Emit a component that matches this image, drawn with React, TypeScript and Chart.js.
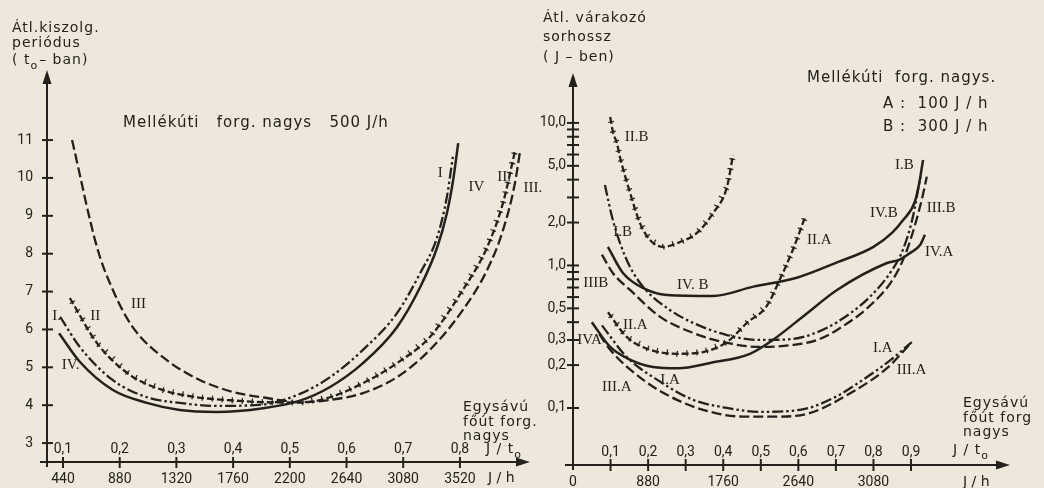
import React, { useEffect, useRef } from "react";
import { Chart, registerables } from "chart.js";

Chart.register(...registerables);

const INK = "#24211d";
const PAPER = "#eee8dc";
const NUM_FONT = "Roboto, 'DejaVu Sans', sans-serif";
const WORD_FONT = "'DejaVu Sans', sans-serif";
const ROMAN_FONT = "'Liberation Serif', 'DejaVu Serif', serif";

// ---------------- Left chart: Átl. kiszolg. periódus (t0-ban) ----------------
const leftTickValues = [0.1, 0.2, 0.3, 0.4, 0.5, 0.6, 0.7, 0.8];
const leftUpperLabels = ["0,1", "0,2", "0,3", "0,4", "0,5", "0,6", "0,7", "0,8"];
const leftLowerLabels = ["440", "880", "1320", "1760", "2200", "2640", "3080", "3520"];
const leftYTicks = [3, 4, 5, 6, 7, 8, 9, 10, 11];

const curveI_x = [0.095, 0.13, 0.188, 0.248, 0.306, 0.371, 0.453, 0.518, 0.571, 0.629, 0.689, 0.73, 0.76, 0.777, 0.788];
const curveI_y = [6.33, 5.53, 4.66, 4.21, 4.06, 3.98, 4.02, 4.3, 4.74, 5.46, 6.43, 7.49, 8.44, 9.5, 10.6];

const curveII_x = [0.112, 0.16, 0.218, 0.276, 0.336, 0.395, 0.453, 0.52, 0.571, 0.629, 0.689, 0.747, 0.805, 0.848, 0.876, 0.897];
const curveII_y = [6.83, 5.64, 4.8, 4.4, 4.21, 4.13, 4.08, 4.07, 4.21, 4.58, 5.11, 5.8, 7.04, 8.17, 9.34, 10.7];

const curveIII_x = [0.116, 0.16, 0.188, 0.223, 0.283, 0.342, 0.4, 0.46, 0.518, 0.571, 0.629, 0.689, 0.747, 0.805, 0.848, 0.876, 0.897, 0.906];
const curveIII_y = [11.0, 8.17, 7.04, 6.06, 5.19, 4.66, 4.35, 4.19, 4.08, 4.14, 4.32, 4.74, 5.46, 6.51, 7.57, 8.62, 9.86, 10.7];

const curveIV_x = [0.093, 0.13, 0.188, 0.248, 0.306, 0.371, 0.453, 0.518, 0.571, 0.629, 0.689, 0.73, 0.76, 0.777, 0.788, 0.797];
const curveIV_y = [5.9, 5.14, 4.4, 4.06, 3.87, 3.82, 3.92, 4.12, 4.48, 5.11, 6.06, 7.12, 8.17, 9.07, 9.94, 10.92];

// ---------------- Right chart: Átl. várakozó sorhossz (J-ben) ----------------
const rightUpperTicks = [0.1, 0.2, 0.3, 0.4, 0.5, 0.6, 0.7, 0.8, 0.9];
const rightUpperLabels = ["0,1", "0,2", "0,3", "0,4", "0,5", "0,6", "0,7", "0,8", "0,9"];
const rightLowerTicks = [0, 0.2, 0.4, 0.6, 0.8];
const rightLowerLabels = ["0", "880", "1760", "2640", "3080"];
const rightYLabelValues = [0.1, 0.2, 0.3, 0.5, 1, 2, 5, 10];
const rightYLabels = ["0,1", "0,2", "0,3", "0,5", "1,0", "2,0", "5,0", "10,0"];
const rightYMinorTicks = [0.4, 0.6, 0.7, 0.8, 0.9, 3, 4, 6, 7, 8, 9];

const IB_x = [0.085, 0.104, 0.125, 0.152, 0.19, 0.258, 0.32, 0.41, 0.498, 0.586, 0.65, 0.703, 0.79, 0.852, 0.879, 0.905, 0.925];
const IB_y = [3.67, 2.19, 1.44, 0.975, 0.69, 0.487, 0.395, 0.325, 0.3, 0.305, 0.34, 0.4, 0.6, 0.95, 1.3, 2.2, 4.2];

const IIB_x = [0.099, 0.107, 0.117, 0.125, 0.152, 0.178, 0.205, 0.24, 0.285, 0.33, 0.373, 0.41, 0.426];
const IIB_y = [11.0, 8.5, 7.2, 5.77, 3.23, 1.99, 1.51, 1.35, 1.46, 1.69, 2.33, 3.56, 5.96];

const IIIB_x = [0.077, 0.106, 0.152, 0.232, 0.32, 0.41, 0.498, 0.586, 0.65, 0.703, 0.79, 0.852, 0.885, 0.91, 0.93, 0.942];
const IIIB_y = [1.19, 0.885, 0.673, 0.436, 0.336, 0.286, 0.268, 0.277, 0.3, 0.353, 0.52, 0.8, 1.2, 1.9, 3.0, 4.2];

const IVB_x = [0.093, 0.133, 0.186, 0.25, 0.373, 0.48, 0.596, 0.703, 0.8, 0.85, 0.879, 0.91, 0.922, 0.932];
const IVB_y = [1.35, 0.885, 0.695, 0.62, 0.61, 0.71, 0.82, 1.05, 1.35, 1.7, 2.08, 2.79, 3.8, 5.5];

const IA_x = [0.077, 0.143, 0.232, 0.32, 0.41, 0.498, 0.604, 0.692, 0.783, 0.852, 0.902];
const IA_y = [0.38, 0.228, 0.153, 0.114, 0.1, 0.094, 0.097, 0.117, 0.165, 0.224, 0.29];

const IIA_x = [0.093, 0.143, 0.205, 0.277, 0.346, 0.41, 0.463, 0.516, 0.551, 0.586, 0.618];
const IIA_y = [0.47, 0.315, 0.256, 0.24, 0.247, 0.29, 0.395, 0.52, 0.8, 1.3, 2.19];

const IIIA_x = [0.07, 0.099, 0.186, 0.277, 0.365, 0.453, 0.543, 0.63, 0.745, 0.836, 0.897];
const IIIA_y = [0.33, 0.256, 0.158, 0.114, 0.094, 0.087, 0.087, 0.092, 0.13, 0.19, 0.28];

const IVA_x = [0.05, 0.099, 0.143, 0.213, 0.28, 0.365, 0.471, 0.532, 0.62, 0.703, 0.836, 0.87, 0.897, 0.924, 0.937];
const IVA_y = [0.4, 0.268, 0.224, 0.194, 0.19, 0.207, 0.24, 0.3, 0.455, 0.673, 1.04, 1.1, 1.22, 1.39, 1.64];

// ---------------- styles ----------------
const DASH_DOT_DOT = [11, 3, 2.5, 3, 2.5, 3];
const TICKED = [7, 3];
const LONG_DASH = [10, 4];
const SOLID: number[] = [];

function makeDataset(xs: number[], ys: number[], dash: number[], width: number) {
  return {
    data: xs.map((x, i) => ({ x, y: ys[i] })),
    borderColor: INK,
    borderWidth: width,
    borderDash: dash,
    pointRadius: 0,
    cubicInterpolationMode: "monotone",
    fill: false,
    borderCapStyle: "butt",
  };
}

function line(ctx: any, x1: number, y1: number, x2: number, y2: number) {
  ctx.beginPath();
  ctx.moveTo(x1, y1);
  ctx.lineTo(x2, y2);
  ctx.stroke();
}

function arrowUp(ctx: any, x: number, y: number) {
  ctx.beginPath();
  ctx.moveTo(x, y);
  ctx.lineTo(x - 4.5, y + 14);
  ctx.lineTo(x + 4.5, y + 14);
  ctx.closePath();
  ctx.fill();
}

function arrowRight(ctx: any, x: number, y: number) {
  ctx.beginPath();
  ctx.moveTo(x, y);
  ctx.lineTo(x - 14, y - 4.5);
  ctx.lineTo(x - 14, y + 4.5);
  ctx.closePath();
  ctx.fill();
}

function text(ctx: any, s: string, x: number, y: number, font: string, align = "left", spacing = "0px") {
  ctx.font = font;
  ctx.textAlign = align;
  ctx.textBaseline = "middle";
  (ctx as any).letterSpacing = spacing;
  ctx.fillText(s, x, y);
  (ctx as any).letterSpacing = "0px";
}

function subText(ctx: any, pre: string, sub: string, post: string, x: number, y: number, font: string, subFont: string, spacing = "1px") {
  ctx.textAlign = "left";
  ctx.textBaseline = "middle";
  (ctx as any).letterSpacing = spacing;
  ctx.font = font;
  ctx.fillText(pre, x, y);
  const w1 = ctx.measureText(pre).width;
  ctx.font = subFont;
  ctx.fillText(sub, x + w1, y + 6);
  const w2 = ctx.measureText(sub).width;
  ctx.font = font;
  ctx.fillText(post, x + w1 + w2 + 1, y);
  (ctx as any).letterSpacing = "0px";
}

function drawTicks(chart: any, dsIndex: number) {
  const meta = chart.getDatasetMeta(dsIndex);
  const pts = meta.data.map((e: any) => ({ x: e.x, y: e.y }));
  const ctx = chart.ctx;
  ctx.save();
  ctx.strokeStyle = INK;
  ctx.lineWidth = 1.2;
  ctx.setLineDash([]);
  let carry = 5;
  for (let i = 0; i < pts.length - 1; i++) {
    const a = pts[i];
    const b = pts[i + 1];
    const dx = b.x - a.x;
    const dy = b.y - a.y;
    const len = Math.hypot(dx, dy);
    if (!len) continue;
    const ux = dx / len;
    const uy = dy / len;
    let d = carry;
    while (d < len) {
      const px = a.x + ux * d;
      const py = a.y + uy * d;
      line(ctx, px - uy * 3, py + ux * 3, px + uy * 3, py - ux * 3);
      d += 10;
    }
    carry = d - len;
  }
  ctx.restore();
}

const WORD = `14px ${WORD_FONT}`;
const WORD_L = `15px ${WORD_FONT}`;
const NUM = `14px ${NUM_FONT}`;
const ROMAN = `15px ${ROMAN_FONT}`;
const SUB = `11px ${WORD_FONT}`;

const leftCurveLabels = [
  { t: "I", x: 0.761, y: 10.13 },
  { t: "IV", x: 0.815, y: 9.76 },
  { t: "II.", x: 0.866, y: 10.02 },
  { t: "III.", x: 0.912, y: 9.73 },
  { t: "I.", x: 0.081, y: 6.35 },
  { t: "II", x: 0.148, y: 6.35 },
  { t: "III", x: 0.22, y: 6.68 },
  { t: "IV.", x: 0.098, y: 5.05 },
];

const rightCurveLabels = [
  { t: "II.B", x: 0.138, y: 8.0 },
  { t: "I.B", x: 0.107, y: 1.72 },
  { t: "IIIB", x: 0.027, y: 0.753 },
  { t: "IV. B", x: 0.277, y: 0.73 },
  { t: "II.A", x: 0.133, y: 0.382 },
  { t: "IVA", x: 0.011, y: 0.3 },
  { t: "III.A", x: 0.077, y: 0.14 },
  { t: "I.A", x: 0.232, y: 0.158 },
  { t: "II.A", x: 0.623, y: 1.51 },
  { t: "I.B", x: 0.857, y: 5.07 },
  { t: "IV.B", x: 0.791, y: 2.33 },
  { t: "III.B", x: 0.942, y: 2.54 },
  { t: "IV.A", x: 0.937, y: 1.24 },
  { t: "I.A", x: 0.799, y: 0.264 },
  { t: "III.A", x: 0.862, y: 0.185 },
];

const leftDecor = {
  id: "leftDecor",
  afterDatasetsDraw(chart: any) {
    drawTicks(chart, 1);
  },
  afterDraw(chart: any) {
    const { ctx, chartArea } = chart;
    const xs = chart.scales.x;
    const ys = chart.scales.y;
    ctx.save();
    ctx.strokeStyle = INK;
    ctx.fillStyle = INK;
    ctx.lineWidth = 2;
    ctx.setLineDash([]);
    const ax = chartArea.left;
    const ay = chartArea.bottom;
    line(ctx, ax, ay + 5, ax, chartArea.top + 10);
    arrowUp(ctx, ax, chartArea.top);
    line(ctx, ax - 7, ay, chartArea.right - 10, ay);
    arrowRight(ctx, chartArea.right, ay);
    leftYTicks.forEach((v) => {
      const py = ys.getPixelForValue(v);
      line(ctx, ax - 5, py, ax + 6, py);
    });
    leftTickValues.forEach((v, i) => {
      const px = xs.getPixelForValue(v);
      line(ctx, px, ay - 5, px, ay + 6);
      text(ctx, leftUpperLabels[i], px, ay - 13, NUM, "center");
    });
    text(ctx, "Átl.kiszolg.", 12, 28, WORD, "left", "1px");
    text(ctx, "periódus", 12, 43, WORD, "left", "1px");
    subText(ctx, "( t", "o", "– ban)", 12, 60, WORD, SUB);
    text(ctx, "Mellékúti   forg. nagys   500 J/h", 123, 123, WORD_L, "left", "1px");
    text(ctx, "Egysávú", 463, 407, WORD, "left", "1px");
    text(ctx, "főút forg.", 463, 422, WORD, "left", "1px");
    text(ctx, "nagys", 463, 436, WORD, "left", "1px");
    subText(ctx, "J / t", "o", "", 486, 449, WORD, SUB);
    text(ctx, "J / h", 488, 478, WORD, "left");
    leftCurveLabels.forEach((l) => {
      text(ctx, l.t, xs.getPixelForValue(l.x), ys.getPixelForValue(l.y), ROMAN, "left");
    });
    ctx.restore();
  },
};

const rightDecor = {
  id: "rightDecor",
  afterDatasetsDraw(chart: any) {
    drawTicks(chart, 1);
    drawTicks(chart, 5);
  },
  afterDraw(chart: any) {
    const { ctx, chartArea } = chart;
    const xs = chart.scales.x;
    const ys = chart.scales.y;
    ctx.save();
    ctx.strokeStyle = INK;
    ctx.fillStyle = INK;
    ctx.lineWidth = 2;
    ctx.setLineDash([]);
    const ax = chartArea.left;
    const ay = chartArea.bottom;
    line(ctx, ax, ay + 5, ax, chartArea.top + 10);
    arrowUp(ctx, ax, chartArea.top);
    line(ctx, ax - 8, ay, chartArea.right - 10, ay);
    arrowRight(ctx, chartArea.right, ay);
    [...rightYLabelValues, ...rightYMinorTicks].forEach((v) => {
      const py = ys.getPixelForValue(v);
      line(ctx, ax - 6, py, ax + 6, py);
    });
    rightUpperTicks.forEach((v, i) => {
      const px = xs.getPixelForValue(v);
      line(ctx, px, ay - 6, px, ay + 6);
      text(ctx, rightUpperLabels[i], px, ay - 13, NUM, "center");
    });
    text(ctx, "Átl. várakozó", 543, 18, WORD, "left", "1px");
    text(ctx, "sorhossz", 543, 37, WORD, "left", "1px");
    text(ctx, "( J – ben)", 543, 57, WORD, "left", "1px");
    text(ctx, "Mellékúti  forg. nagys.", 807, 78, WORD_L, "left", "1px");
    text(ctx, "A :  100 J / h", 883, 104, WORD_L, "left", "1px");
    text(ctx, "B :  300 J / h", 883, 127, WORD_L, "left", "1px");
    text(ctx, "Egysávú", 963, 403, WORD, "left", "1px");
    text(ctx, "főút forg", 963, 418, WORD, "left", "1px");
    text(ctx, "nagys", 963, 432, WORD, "left", "1px");
    subText(ctx, "J / t", "o", "", 953, 450, WORD, SUB);
    text(ctx, "J / h", 963, 482, WORD, "left");
    rightCurveLabels.forEach((l) => {
      text(ctx, l.t, xs.getPixelForValue(l.x), ys.getPixelForValue(l.y), ROMAN, "left");
    });
    ctx.restore();
  },
};

function leftConfig(): any {
  return {
    type: "line",
    data: {
      datasets: [
        makeDataset(curveI_x, curveI_y, DASH_DOT_DOT, 2.3),
        makeDataset(curveII_x, curveII_y, TICKED, 2.3),
        makeDataset(curveIII_x, curveIII_y, LONG_DASH, 2.3),
        makeDataset(curveIV_x, curveIV_y, SOLID, 2.5),
      ],
    },
    options: {
      animation: false,
      responsive: false,
      events: [],
      layout: { padding: { left: 0, top: 70, right: 514, bottom: 0 } },
      plugins: { legend: { display: false }, tooltip: { enabled: false }, title: { display: false } },
      scales: {
        x: {
          type: "linear",
          min: 0.0718,
          max: 0.9236,
          bounds: "data",
          afterBuildTicks: (s: any) => {
            s.ticks = leftTickValues.map((v) => ({ value: v }));
          },
          afterFit: (s: any) => {
            s.height = 26;
          },
          grid: { display: false, drawTicks: false },
          border: { display: false },
          ticks: {
            autoSkip: false,
            maxRotation: 0,
            padding: 9,
            color: INK,
            font: { family: NUM_FONT, size: 14 },
            callback: (_v: any, i: number) => leftLowerLabels[i],
          },
        },
        y: {
          type: "linear",
          min: 2.5,
          max: 12.85,
          bounds: "data",
          afterBuildTicks: (s: any) => {
            s.ticks = leftYTicks.map((v) => ({ value: v }));
          },
          afterFit: (s: any) => {
            s.width = 47;
          },
          grid: { display: false, drawTicks: false },
          border: { display: false },
          ticks: {
            padding: 14,
            color: INK,
            font: { family: NUM_FONT, size: 14 },
            callback: (v: any) => String(v),
          },
        },
      },
    },
    plugins: [leftDecor],
  };
}

function rightConfig(): any {
  return {
    type: "line",
    data: {
      datasets: [
        makeDataset(IB_x, IB_y, DASH_DOT_DOT, 2.3),
        makeDataset(IIB_x, IIB_y, TICKED, 2.3),
        makeDataset(IIIB_x, IIIB_y, LONG_DASH, 2.3),
        makeDataset(IVB_x, IVB_y, SOLID, 2.5),
        makeDataset(IA_x, IA_y, DASH_DOT_DOT, 2.3),
        makeDataset(IIA_x, IIA_y, TICKED, 2.3),
        makeDataset(IIIA_x, IIIA_y, LONG_DASH, 2.3),
        makeDataset(IVA_x, IVA_y, SOLID, 2.5),
      ],
    },
    options: {
      animation: false,
      responsive: false,
      events: [],
      layout: { padding: { left: 0, top: 73, right: 34, bottom: 0 } },
      plugins: { legend: { display: false }, tooltip: { enabled: false }, title: { display: false } },
      scales: {
        x: {
          type: "linear",
          min: 0,
          max: 1.1635,
          bounds: "data",
          afterBuildTicks: (s: any) => {
            s.ticks = rightLowerTicks.map((v) => ({ value: v }));
          },
          afterFit: (s: any) => {
            s.height = 23;
          },
          grid: { display: false, drawTicks: false },
          border: { display: false },
          ticks: {
            autoSkip: false,
            maxRotation: 0,
            padding: 9,
            color: INK,
            font: { family: NUM_FONT, size: 14 },
            callback: (_v: any, i: number) => rightLowerLabels[i],
          },
        },
        y: {
          type: "logarithmic",
          min: 0.0398,
          max: 22.4,
          bounds: "data",
          afterBuildTicks: (s: any) => {
            s.ticks = rightYLabelValues.map((v) => ({ value: v }));
          },
          afterFit: (s: any) => {
            s.width = 573;
          },
          grid: { display: false, drawTicks: false },
          border: { display: false },
          ticks: {
            padding: 7,
            color: INK,
            font: { family: NUM_FONT, size: 14 },
            callback: (_v: any, i: number) => rightYLabels[i],
          },
        },
      },
    },
    plugins: [rightDecor],
  };
}

export default function App() {
  const leftRef = useRef<HTMLCanvasElement | null>(null);
  const rightRef = useRef<HTMLCanvasElement | null>(null);

  useEffect(() => {
    const l = new Chart(leftRef.current as HTMLCanvasElement, leftConfig());
    const r = new Chart(rightRef.current as HTMLCanvasElement, rightConfig());
    return () => {
      l.destroy();
      r.destroy();
    };
  }, []);

  const canvasStyle: React.CSSProperties = { position: "absolute", left: 0, top: 0, width: 1044, height: 488 };
  return (
    <div style={{ position: "fixed", left: 0, top: 0, width: 1044, height: 488, background: PAPER, overflow: "hidden" }}>
      <canvas ref={leftRef} width={1044} height={488} style={canvasStyle} />
      <canvas ref={rightRef} width={1044} height={488} style={canvasStyle} />
    </div>
  );
}
